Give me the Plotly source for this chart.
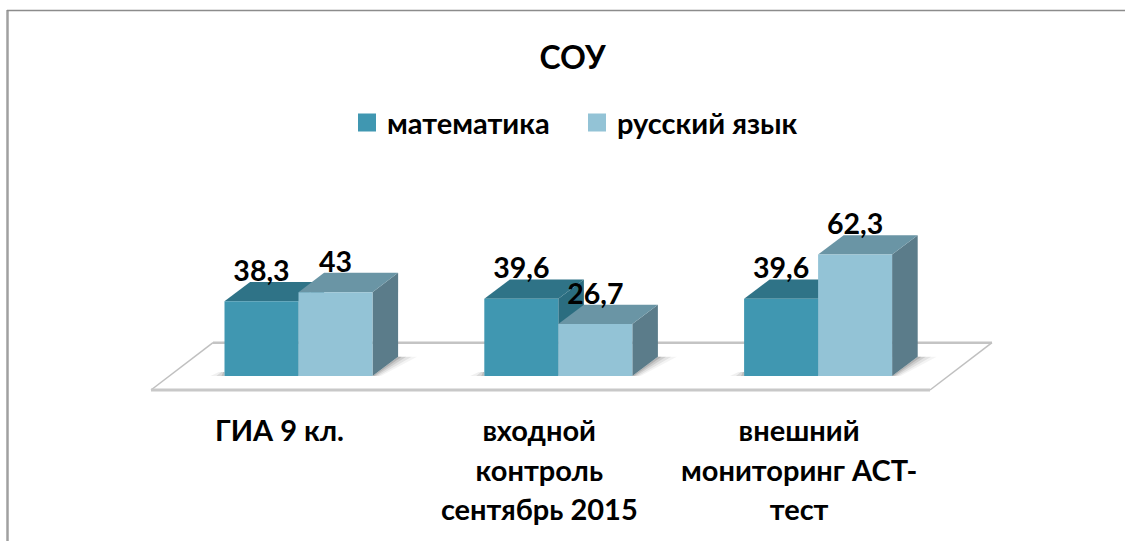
import plotly.graph_objects as go

categories = ["ГИА 9 кл.", "входной<br>контроль<br>сентябрь 2015", "внешний<br>мониторинг АСТ-<br>тест"]
series_names = ["математика", "русский язык"]
math_values = [38.3, 39.6, 39.6]
russian_values = [43, 26.7, 62.3]

W, H = 1125, 541
FONT = "Lato, 'Noto Sans', sans-serif"
X0_PX, GROUP_PX, BAR_PX = 298.5, 259.8, 74.0
Y0_PX, UNIT_PX = 376.0, 1.95
AXIS_BOTTOM_PX = 395.0
DX_PX, DY_PX = 25.6, 19.3


def ux(px):
    return px / GROUP_PX


def uy(px):
    return px / UNIT_PX


def x_of(px):
    return (px - X0_PX) / GROUP_PX


def y_of(py):
    return (Y0_PX - py) / UNIT_PX


bw = ux(BAR_PX)
dx = ux(DX_PX)
dy = uy(DY_PX)
positions = list(range(len(categories)))
math_x = [p - bw / 2 for p in positions]
rus_x = [p + bw / 2 for p in positions]


def poly(points, color):
    d = "M" + " L".join(f"{x:.5f},{y:.4f}" for x, y in points) + " Z"
    return dict(type="path", path=d, xref="x", yref="y", fillcolor=color, line=dict(width=0), layer="below")


def line(p, q, color, width):
    return dict(type="line", x0=p[0], y0=p[1], x1=q[0], y1=q[1], xref="x", yref="y",
                line=dict(color=color, width=width), layer="below")


shapes = []
# floor
fl, fr, bl, br = (x_of(151), y_of(390)), (x_of(930), y_of(390)), (x_of(213), y_of(342.7)), (x_of(992), y_of(342.7))
shapes.append(line(bl, br, "#c4c4c4", 2.5))
shapes.append(line(fl, bl, "#c0c0c0", 1.5))
shapes.append(line(fr, br, "#c0c0c0", 1.5))
shapes.append(line(fl, fr, "#c8c8c8", 3))

# soft floor shadows
for p in positions:
    xr = p + bw
    xl = p - bw
    for extra, alpha in ((42, 0.06), (30, 0.09), (18, 0.13), (8, 0.18)):
        shapes.append(poly([(xr, 0), (xr + dx, dy), (xr + dx + ux(extra * 0.45), dy),
                            (xr + ux(extra * 0.2), 0)], f"rgba(60,60,60,{alpha})"))
    for extra, alpha in ((14, 0.08), (8, 0.12), (3, 0.16)):
        shapes.append(poly([(xl - ux(extra), 0), (xl, 0), (xl, uy(4)), (xl - ux(extra * 0.4), uy(4))],
                           f"rgba(60,60,60,{alpha})"))

# depth faces, computed from the values
for xc, v in zip(math_x, math_values):
    xa, xb = xc - bw / 2, xc + bw / 2
    shapes.append(poly([(xb, 0), (xb + dx, dy), (xb + dx, v + dy), (xb, v)], "#2b6d80"))
    shapes.append(poly([(xa, v), (xb, v), (xb + dx, v + dy), (xa + dx, v + dy)], "#2f7387"))
for xc, v in zip(rus_x, russian_values):
    xa, xb = xc - bw / 2, xc + bw / 2
    shapes.append(poly([(xb, 0), (xb + dx, dy), (xb + dx, v + dy), (xb, v)], "#5b7c8a"))
    shapes.append(poly([(xa, v), (xb, v), (xb + dx, v + dy), (xa + dx, v + dy)], "#6a95a5"))

fmt = lambda v: str(v).replace(".", ",")
fig = go.Figure()
fig.add_trace(go.Bar(x=math_x, y=math_values, width=bw, marker=dict(color="#4097b1", line=dict(width=0)), showlegend=False))
fig.add_trace(go.Bar(x=rus_x, y=russian_values, width=bw, marker=dict(color="#93c3d6", line=dict(width=0)), showlegend=False))
LABEL_DROP = uy(6)
for xs, vals in ((math_x, math_values), (rus_x, russian_values)):
    fig.add_trace(go.Scatter(x=xs, y=[v + dy - LABEL_DROP for v in vals], mode="text", text=[fmt(v) for v in vals],
                             textposition="top center", textfont=dict(family=FONT, size=28.5, color="#000000", weight="bold"),
                             showlegend=False, cliponaxis=False, hoverinfo="skip"))
for name, c in zip(series_names, ("#4097b1", "#93c3d6")):
    fig.add_trace(go.Scatter(x=[None], y=[None], mode="markers", name=name,
                             marker=dict(symbol="square", size=16, color=c, line=dict(color=c, width=2))))

frame = [
    dict(type="line", xref="paper", yref="paper", xsizemode="pixel", ysizemode="pixel", xanchor=0, yanchor=1,
         x0=7.5, x1=7.5, y0=-10, y1=-541, line=dict(color="#a0a0a0", width=2.5), layer="above"),
    dict(type="line", xref="paper", yref="paper", xsizemode="pixel", ysizemode="pixel", xanchor=0, yanchor=1,
         x0=7, x1=1125, y0=-10.5, y1=-10.5, line=dict(color="#8c8c8c", width=1.5), layer="above"),
]


def tick_label(c):
    return "<br>".join(f'<span style="font-size:29px"><b>{part}</b></span>' for part in c.split("<br>"))


fig.update_layout(
    width=W, height=H, margin=dict(l=0, r=0, t=0, b=H - AXIS_BOTTOM_PX),
    paper_bgcolor="#ffffff", plot_bgcolor="#ffffff", barmode="overlay",
    title=dict(text="<b>СОУ</b>", x=572.5 / W, xanchor="center", y=1 - 58 / H, yanchor="middle",
               font=dict(family=FONT, size=32, color="#000000")),
    legend=dict(orientation="h", x=347 / W, xanchor="left", y=1 - 133 / H, yanchor="top",
                entrywidth=185, entrywidthmode="pixels", itemclick=False, itemdoubleclick=False,
                font=dict(family=FONT, size=29, color="#000000", weight="bold")),
    xaxis=dict(range=[x_of(0), x_of(W)], tickvals=positions, ticktext=[tick_label(c) for c in categories],
               showgrid=False, zeroline=False, showline=False, ticks="", ticklabelshift=-19, ticklabelstandoff=15,
               tickangle=0, tickfont=dict(family=FONT, size=30.4, color="#000000")),
    yaxis=dict(range=[y_of(AXIS_BOTTOM_PX), y_of(0)], visible=False),
    shapes=shapes + frame,
)
fig.write_html("out.html", config=dict(displayModeBar=False),
               post_script="document.body.style.margin='0';document.body.style.overflow='hidden';")
